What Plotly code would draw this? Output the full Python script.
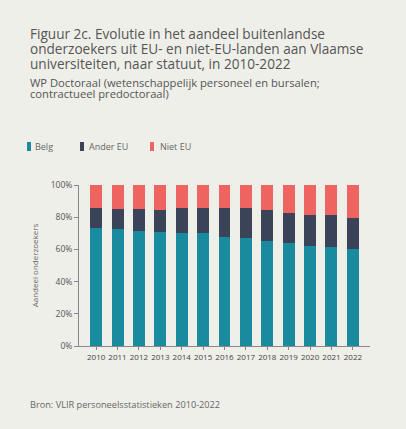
import plotly.graph_objects as go

years = ["2010", "2011", "2012", "2013", "2014", "2015", "2016", "2017", "2018", "2019", "2020", "2021", "2022"]
belg = [73.5, 72.5, 71.5, 71.0, 70.0, 70.0, 67.8, 66.8, 65.5, 64.2, 62.0, 61.2, 60.0]
ander_eu = [12.5, 12.5, 13.5, 13.2, 15.8, 15.8, 18.0, 19.0, 18.7, 18.4, 19.2, 20.0, 19.6]
niet_eu = [14.0, 15.0, 15.0, 15.8, 14.2, 14.2, 14.2, 14.2, 15.8, 17.4, 18.8, 18.8, 20.4]
series_names = ["Belg", "Ander EU", "Niet EU"]
series_colors = ["#1a8a9e", "#3b4359", "#ee6460"]
y_ticks = [0, 20, 40, 60, 80, 100]
y_tick_labels = ["0%", "20%", "40%", "60%", "80%", "100%"]
title_lines = [
    "Figuur 2c. Evolutie in het aandeel buitenlandse",
    "onderzoekers uit EU- en niet-EU-landen aan Vlaamse",
    "universiteiten, naar statuut, in 2010-2022",
]
subtitle_lines = [
    "WP Doctoraal (wetenschappelijk personeel en bursalen;",
    "contractueel predoctoraal)",
]
source_text = "Bron: VLIR personeelsstatistieken 2010-2022"

bg = "#efefea"
font_family = "Open Sans, Noto Sans, sans-serif"

fig = go.Figure()
for name, vals, col in zip(series_names, [belg, ander_eu, niet_eu], series_colors):
    fig.add_trace(go.Bar(x=years, y=vals, name=name,
                         marker=dict(color=col, line=dict(width=0)), width=0.56))

fig.update_layout(
    barmode="stack",
    width=406, height=429,
    paper_bgcolor=bg, plot_bgcolor=bg,
    margin=dict(l=79, r=36, t=185, b=83),
    font=dict(family=font_family, color="#555555"),
    showlegend=False,
)
fig.update_xaxes(
    type="category", range=[-0.8, 12.8], automargin=False,
    showline=True, linecolor="#888888", linewidth=1,
    ticks="outside", ticklen=3, tickcolor="#888888", tickangle=0,
    tickfont=dict(size=8, color="#444444"), showgrid=False,
)
fig.update_yaxes(
    range=[0, 100], tickvals=y_ticks, ticktext=y_tick_labels, automargin=False,
    showline=True, linecolor="#888888", linewidth=1,
    ticks="outside", ticklen=4, tickcolor="#888888",
    tickfont=dict(size=8.5, color="#555555"), showgrid=False, zeroline=False,
    title=dict(text="Aandeel onderzoekers", font=dict(size=8, color="#666666"), standoff=10),
)

left_x = -0.1753
# Title lines
for txt, yy in zip(title_lines, [1.938, 1.845, 1.755]):
    fig.add_annotation(text=txt, xref="paper", yref="paper", x=left_x, y=yy,
                       xanchor="left", yanchor="middle", showarrow=False,
                       font=dict(size=13.6, color="#555555"))
# Subtitle lines
for txt, yy in zip(subtitle_lines, [1.637, 1.566]):
    fig.add_annotation(text=txt, xref="paper", yref="paper", x=left_x, y=yy,
                       xanchor="left", yanchor="middle", showarrow=False,
                       font=dict(size=11.2, color="#555555"))
# Legend (manual, compact)
swatch_x = [-0.1787, 0.0034, 0.244]
label_x = [-0.158, 0.0275, 0.2715]
for name, col, sx, lx in zip(series_names, series_colors, swatch_x, label_x):
    fig.add_shape(type="rect", xref="paper", yref="paper",
                  x0=sx, x1=sx + 0.0138, y0=1.211, y1=1.267,
                  fillcolor=col, line=dict(width=0))
    fig.add_annotation(text=name, xref="paper", yref="paper", x=lx, y=1.239,
                       xanchor="left", yanchor="middle", showarrow=False,
                       font=dict(size=9, color="#666666"))
# Source
fig.add_annotation(
    text=source_text,
    xref="paper", yref="paper", x=left_x, y=-0.366, xanchor="left", yanchor="middle",
    showarrow=False, align="left", font=dict(size=9.2, color="#666666"),
)

fig.write_html("out.html", config={"displayModeBar": False},
               post_script="document.body.style.margin='0';")
